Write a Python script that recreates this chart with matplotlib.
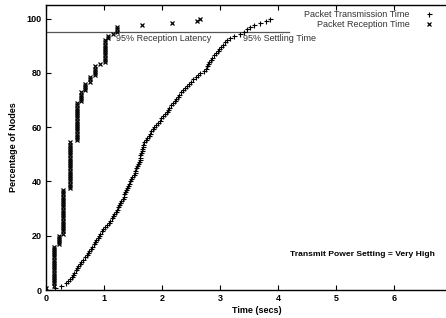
import numpy as np
import matplotlib
matplotlib.use('Agg')
import matplotlib.pyplot as plt

plt.rcParams['font.family'] = ['Liberation Sans', 'DejaVu Sans']

N_NODES = 125

# per-node packet transmission times (secs), sorted
tx_times = [
    0.15, 0.26, 0.34, 0.38, 0.42, 0.44, 0.47, 0.49, 0.51, 0.54,
    0.56, 0.58, 0.61, 0.64, 0.67, 0.70, 0.72, 0.75, 0.77, 0.80,
    0.83, 0.85, 0.87, 0.89, 0.91, 0.93, 0.96, 0.99, 1.02, 1.05,
    1.08, 1.11, 1.13, 1.16, 1.18, 1.20, 1.22, 1.24, 1.26, 1.28,
    1.30, 1.32, 1.34, 1.35, 1.37, 1.38, 1.40, 1.41, 1.43, 1.45,
    1.47, 1.49, 1.51, 1.53, 1.54, 1.56, 1.57, 1.59, 1.60, 1.62,
    1.63, 1.63, 1.64, 1.65, 1.66, 1.67, 1.68, 1.69, 1.72, 1.74,
    1.77, 1.79, 1.81, 1.84, 1.86, 1.89, 1.93, 1.96, 1.99, 2.02,
    2.05, 2.08, 2.10, 2.13, 2.16, 2.19, 2.22, 2.25, 2.27, 2.30,
    2.33, 2.36, 2.40, 2.43, 2.47, 2.51, 2.54, 2.58, 2.62, 2.66,
    2.72, 2.76, 2.78, 2.80, 2.82, 2.85, 2.87, 2.90, 2.93, 2.96,
    2.99, 3.02, 3.06, 3.09, 3.13, 3.17, 3.25, 3.34, 3.41, 3.47,
    3.52, 3.58, 3.70, 3.79, 3.86,
]

# packet reception times: distinct times and how many nodes got it then
rx_group_times = [0.00, 0.13, 0.22, 0.30, 0.42, 0.53, 0.61, 0.67, 0.76,
                  0.85, 0.93, 1.02, 1.07, 1.16, 1.22, 1.65, 2.17, 2.60, 2.66]
rx_group_counts = [1, 19, 5, 21, 22, 18, 5, 4, 3,
                   5, 1, 11, 2, 1, 3, 1, 1, 1, 1]

settle_level = 95
settle_line_end = 4.2

rx_times = np.repeat(rx_group_times, rx_group_counts)
tx_pct = np.arange(1, len(tx_times) + 1) * 100.0 / N_NODES
rx_pct = np.arange(1, len(rx_times) + 1) * 100.0 / N_NODES

fig = plt.figure(figsize=(4.46, 3.18), dpi=100)
ax = fig.add_axes([46 / 446, 28 / 318, 422 / 446, 285 / 318])

ax.plot([0, settle_line_end], [settle_level, settle_level], color='#555555', lw=0.9)
ax.plot(tx_times, tx_pct, '+', color='black', ms=3.6, mew=0.8, ls='none',
        label='Packet Transmission Time')
ax.plot(rx_times, rx_pct, 'x', color='black', ms=3.0, mew=0.9, ls='none',
        label='Packet Reception Time')

ax.text(1.21, 94.2, '95% Reception Latency', fontsize=6.5, color='#333333', va='top')
ax.text(3.4, 94.2, '95% Settling Time', fontsize=6.5, color='#333333', va='top')
ax.text(4.21, 13.2, 'Transmit Power Setting = Very High', fontsize=6.1,
        fontweight='bold', va='center')

ax.set_xlim(0, 7.28)
ax.set_ylim(0, 105)
ax.set_xticks(range(0, 7))
ax.set_yticks(range(0, 101, 20))
ax.tick_params(direction='in', length=3.5, width=0.8, top=True, right=True,
               labelsize=6.5, pad=3)
for lab in ax.get_xticklabels() + ax.get_yticklabels():
    lab.set_fontweight('bold')
for sp in ax.spines.values():
    sp.set_linewidth(1.0)

ax.set_xlabel('Time (secs)', fontsize=6.5, fontweight='bold', labelpad=2)
ax.set_ylabel('Percentage of Nodes', fontsize=6.5, fontweight='bold', labelpad=6)

leg = ax.legend(loc='upper right', bbox_to_anchor=(434 / 446, 1 - 10 / 318),
                bbox_transform=fig.transFigure, frameon=False,
                fontsize=6.5, markerfirst=False, handlelength=1.2,
                handletextpad=1.5, labelspacing=0.1, borderaxespad=0,
                borderpad=0)
for t in leg.get_texts():
    t.set_ha('right')
    t.set_color('#333333')

fig.savefig('out.png', dpi=100)
